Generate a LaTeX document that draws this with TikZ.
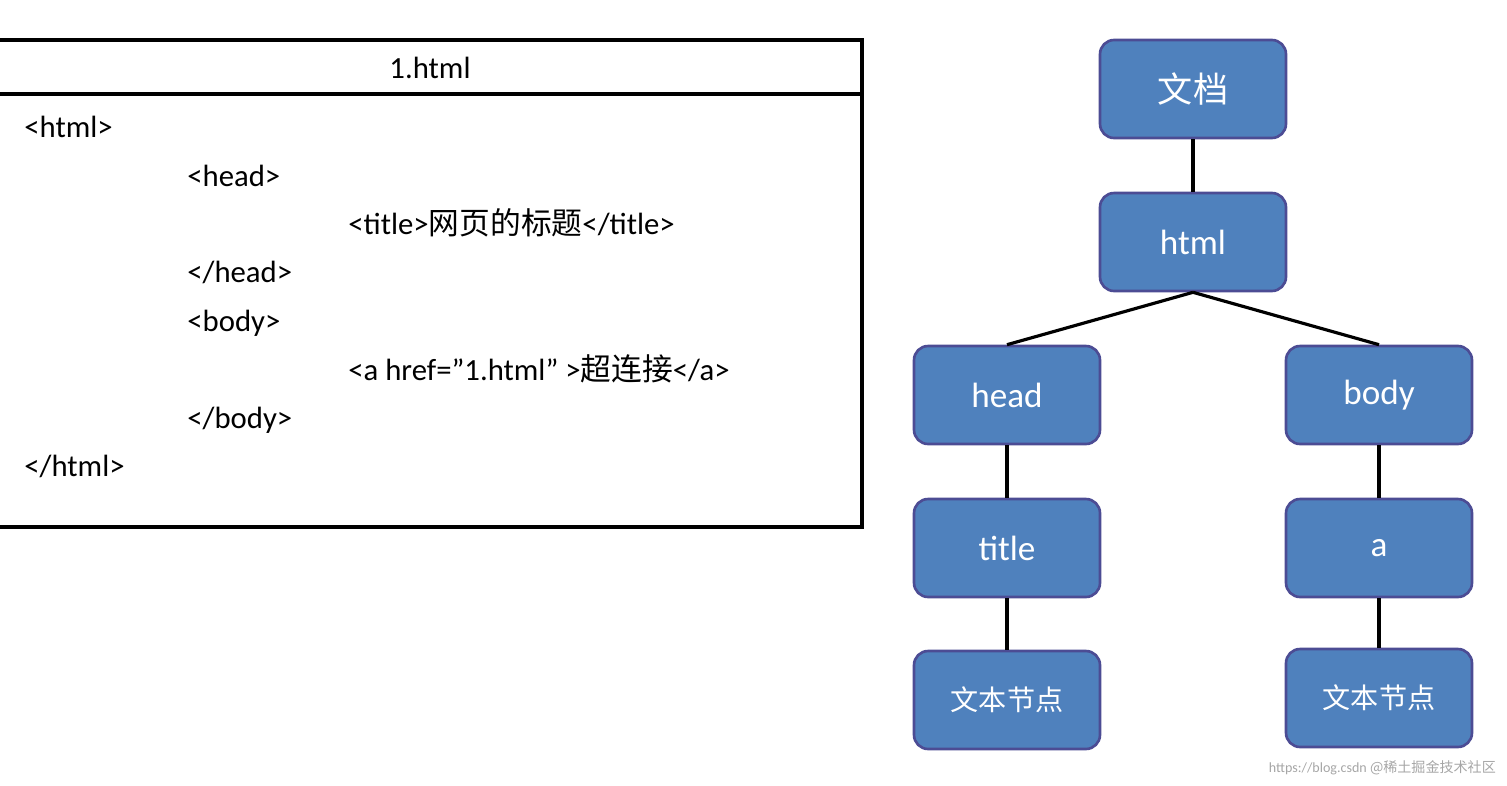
\documentclass[tikz,border=0pt]{standalone}
\usepackage{fontspec}
\setmainfont{Carlito}
\newfontfamily\cjk{Noto Sans CJK SC}
\begin{document}
\begin{tikzpicture}[x=0.02cm,y=-0.02cm,
  tn/.style={draw=blue!40!black!70, line width=1.5pt, fill={rgb,255:red,79;green,129;blue,189}, rounded corners=8pt, minimum width=3.72cm, minimum height=1.96cm, text=white, font=\fontsize{20}{24}\selectfont},
  ln/.style={anchor=base west, font=\fontsize{17.5}{20}\selectfont, inner sep=0pt},
  ed/.style={line width=1.8pt}]
\useasboundingbox (0,0) rectangle (1507,785);
\draw[line width=1.8pt] (-5,40) -- (862,40) -- (862,527) -- (-5,527);
\draw[line width=1.8pt] (-5,94) -- (862,94);
\node[font=\fontsize{17.5}{20}\selectfont] (hdr) at (430,68) {1.html};
\node[ln] (l1) at (24,137) {<html>};
\node[ln] (l2) at (187,186) {<head>};
\node[ln] (l3) at (348,234) {<title>{\cjk 网页的标题}</title>};
\node[ln] (l4) at (187,282) {</head>};
\node[ln] (l5) at (187,331) {<body>};
\node[ln] (l6) at (348,380) {<a href="1.html" >{\cjk 超连接}</a>};
\node[ln] (l7) at (187,428) {</body>};
\node[ln] (l8) at (24,476) {</html>};
\node[tn,font=\cjk\fontsize{20}{24}\selectfont] (doc) at (1193,89) {文档};
\node[tn] (html) at (1193,242) {html};
\node[tn] (head) at (1007,395) {head};
\node[tn] (body) at (1379,395) {body};
\node[tn] (title) at (1007,548) {title};
\node[tn] (a) at (1379,548) {a};
\node[tn,font=\cjk\fontsize{16}{20}\selectfont] (t1) at (1007,700) {文本节点};
\node[tn,font=\cjk\fontsize{16}{20}\selectfont] (t2) at (1379,698) {文本节点};
\draw[ed] (doc) -- (html);
\draw[ed] (html.south) -- (head.north);
\draw[ed] (html.south) -- (body.north);
\draw[ed] (head) -- (title);
\draw[ed] (title) -- (t1);
\draw[ed] (body) -- (a);
\draw[ed] (a) -- (t2);
\node[anchor=east, text=black!35, font=\fontsize{8}{10}\selectfont] (wm) at (1502,768) {https://blog.csdn {\cjk @稀土掘金技术社区}};
\end{tikzpicture}
\end{document}
